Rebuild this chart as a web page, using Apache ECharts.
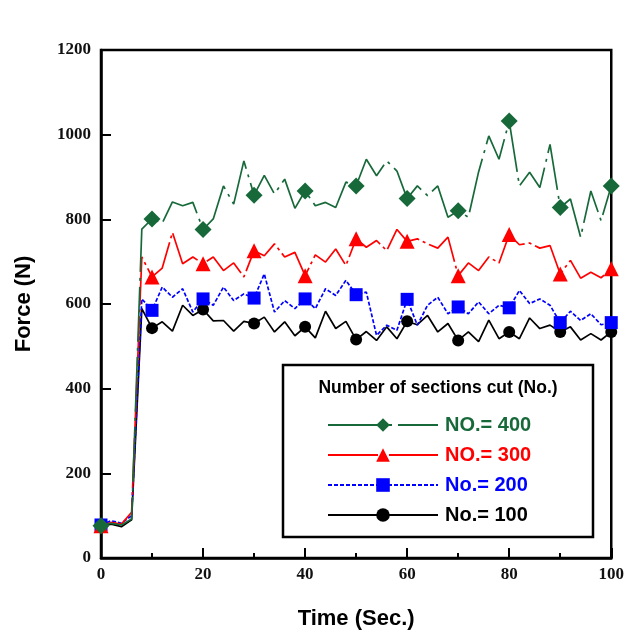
<!DOCTYPE html>
<html>
<head>
<meta charset="utf-8">
<script src="https://cdn.jsdelivr.net/npm/echarts@6/dist/echarts.min.js"></script>
<style>
html, body { margin: 0; padding: 0; background: #fff; }
#chart { width: 627px; height: 635px; }
</style>
</head>
<body>
<div id="chart"></div>
<script>
// time in seconds, sampled every 2 s
const times = [0, 2, 4, 6, 8, 10, 12, 14, 16, 18, 20, 22, 24, 26, 28, 30, 32, 34, 36, 38, 40,
    42, 44, 46, 48, 50, 52, 54, 56, 58, 60, 62, 64, 66, 68, 70, 72, 74, 76, 78, 80,
    82, 84, 86, 88, 90, 92, 94, 96, 98, 100];
const markerTimes = [0, 10, 20, 30, 40, 50, 60, 70, 80, 90, 100];

const no400 = [76, 82, 78, 92, 777, 801, 791, 841, 832, 840, 776, 801, 879, 836, 938, 857, 904, 860, 895, 826,
    867, 832, 840, 828, 888, 879, 942, 903, 938, 914, 849, 879, 856, 879, 805, 820, 805, 912, 997, 942,
    1032, 879, 911, 875, 977, 828, 848, 758, 867, 797, 879];
const no300 = [76, 84, 80, 108, 711, 664, 685, 769, 695, 711, 695, 711, 679, 697, 664, 726, 714, 742, 711, 722,
    667, 716, 699, 730, 691, 754, 734, 750, 726, 776, 748, 754, 742, 732, 758, 667, 697, 679, 711, 697,
    764, 740, 744, 732, 738, 671, 703, 661, 675, 662, 683];
const no200 = [78, 88, 82, 100, 612, 585, 640, 616, 636, 581, 612, 597, 640, 608, 624, 614, 671, 581, 608, 589,
    612, 589, 636, 620, 656, 622, 628, 526, 550, 538, 611, 550, 597, 616, 577, 593, 577, 605, 577, 597,
    591, 632, 601, 612, 597, 556, 583, 561, 577, 551, 556];
const no100 = [75, 80, 74, 90, 589, 543, 558, 536, 597, 573, 587, 560, 561, 536, 559, 554, 569, 534, 558, 525,
    546, 520, 583, 542, 559, 516, 535, 514, 546, 518, 559, 551, 573, 534, 554, 514, 534, 511, 562, 518,
    534, 518, 567, 542, 550, 534, 546, 515, 530, 515, 534];

const xTicks = [0, 20, 40, 60, 80, 100];
const yTicks = [0, 200, 400, 600, 800, 1000, 1200];

const GREEN = '#17693a';

function toData(vals) {
    return times.map((t, i) => {
        if (markerTimes.indexOf(t) >= 0) return [t, vals[i]];
        return { value: [t, vals[i]], symbol: 'none' };
    });
}

function makeSeries(name, vals, color, symbol, size, dash, z) {
    return {
        name: name,
        type: 'line',
        data: toData(vals),
        symbol: symbol,
        symbolSize: size,
        showAllSymbol: true,
        z: z,
        lineStyle: { color: color, width: 1.7, type: dash },
        itemStyle: { color: color, borderWidth: 0 },
        emphasis: { disabled: true },
        animation: false
    };
}

const labelFont = {
    fontFamily: 'Liberation Serif',
    fontWeight: 'bold',
    fontSize: 17,
    color: '#111',
    formatter: v => String(v)
};

const chart = echarts.init(document.getElementById('chart'));
chart.setOption({
    backgroundColor: '#fff',
    animation: false,
    grid: {
        left: 101, right: 15, top: 50, bottom: 74,
        show: true, borderColor: '#000', borderWidth: 2.5
    },
    xAxis: {
        type: 'value',
        min: 0, max: 100, interval: 20,
        name: 'Time (Sec.)',
        nameLocation: 'middle',
        nameGap: 50,
        nameTextStyle: { fontFamily: 'Liberation Sans', fontWeight: 'bold', fontSize: 22, color: '#000' },
        axisLine: { lineStyle: { color: '#000', width: 2.5 } },
        axisTick: { inside: true, length: 10, lineStyle: { color: '#000', width: 2 } },
        minorTick: { show: true, splitNumber: 2, length: 5, lineStyle: { color: '#000', width: 2 } },
        axisLabel: Object.assign({ margin: 8, customValues: xTicks }, labelFont),
        splitLine: { show: false }
    },
    yAxis: {
        type: 'value',
        min: 0, max: 1200, interval: 200,
        name: 'Force (N)',
        nameLocation: 'middle',
        nameGap: 66,
        nameTextStyle: { fontFamily: 'Liberation Sans', fontWeight: 'bold', fontSize: 22, color: '#000' },
        axisLine: { show: true, lineStyle: { color: '#000', width: 2.5 } },
        axisTick: { show: true, inside: true, length: 10, lineStyle: { color: '#000', width: 2 } },
        axisLabel: Object.assign({ margin: 10, customValues: yTicks }, labelFont),
        splitLine: { show: false }
    },
    legend: {
        orient: 'vertical',
        left: 322,
        top: 410,
        z: 100,
        itemWidth: 110,
        itemHeight: 17,
        itemGap: 10,
        selectedMode: false,
        textStyle: { fontFamily: 'Liberation Sans', fontWeight: 'bold', fontSize: 20, lineHeight: 20, padding: [0, 0, 0, 2] },
        data: [
            { name: 'NO.= 400', textStyle: { color: GREEN } },
            { name: 'NO.= 300', textStyle: { color: '#ff0000' } },
            { name: 'No.= 200', textStyle: { color: '#0000ff' } },
            { name: 'No.= 100', textStyle: { color: '#000' } }
        ]
    },
    graphic: [
        {
            type: 'rect',
            z: 10,
            shape: { x: 283, y: 365, width: 310, height: 172 },
            style: { fill: '#fff', stroke: '#000', lineWidth: 2.5 }
        },
        {
            type: 'text',
            z: 11,
            x: 438, y: 388,
            style: {
                text: 'Number of sections cut (No.)',
                fontFamily: 'Liberation Sans', fontWeight: 'bold', fontSize: 17.5,
                fill: '#000', align: 'center', verticalAlign: 'middle'
            }
        }
    ],
    series: [
        makeSeries('No.= 100', no100, '#000', 'circle', 12, 'solid', 3),
        makeSeries('No.= 200', no200, '#0000ff', 'rect', 13, [4, 2], 4),
        makeSeries('NO.= 300', no300, '#ff0000', 'triangle', 15, [50, 4, 3, 4], 5),
        makeSeries('NO.= 400', no400, GREEN, 'diamond', 17, [55, 6, 3, 6], 6)
    ]
});
</script>
</body>
</html>
